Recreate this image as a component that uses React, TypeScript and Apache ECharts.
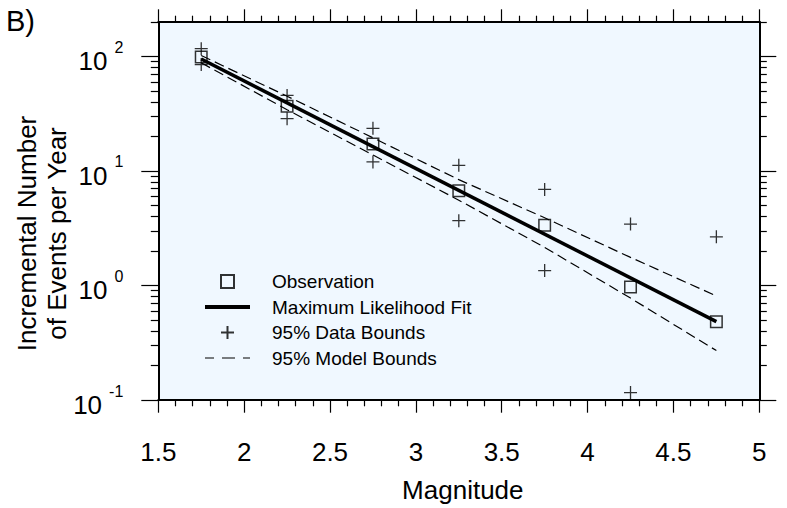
import React, { useEffect, useRef } from "react";
import * as echarts from "echarts";

const magnitudes = [1.75, 2.25, 2.75, 3.25, 3.75, 4.25, 4.75];
const observed = [99, 36.8, 17.2, 6.72, 3.36, 0.97, 0.483];
const dataUpper = [117, 45.7, 23.6, 11.2, 6.9, 3.44, 2.66];
const dataLowerMags = [1.75, 2.25, 2.75, 3.25, 3.75, 4.25];
const dataLower = [85, 28.6, 12.0, 3.68, 1.35, 0.116];
const fitMags = [1.75, 4.75];
const fitValues = [95, 0.483];
const modelUpper = [102, 45, 19.5, 8.4, 3.9, 1.76, 0.81];
const modelLower = [88, 34.3, 13.8, 5.56, 2.15, 0.776, 0.27];

const xTickLabels = ["1.5", "2", "2.5", "3", "3.5", "4", "4.5", "5"];
const yMajorTicks = [0.1, 1, 10, 100];
const yMinorTicks = [
  0.2, 0.3, 0.4, 0.5, 0.6, 0.7, 0.8, 0.9,
  2, 3, 4, 5, 6, 7, 8, 9,
  20, 30, 40, 50, 60, 70, 80, 90,
  200,
];

const FONT = "'Liberation Sans', Arial, Helvetica, sans-serif";
const PLUS = "path://M0,5L10,5M5,0L5,10";
const SQUARE = "path://M0,0L10,0L10,10L0,10Z";

export default function App() {
  const ref = useRef<HTMLDivElement>(null);
  useEffect(() => {
    if (!ref.current) return;
    const chart = echarts.init(ref.current, undefined, { renderer: "svg" });
    const grid = { left: 158.3, top: 22, right: 27.7, bottom: 104 };
    const xBase = (pos: "top" | "bottom", show: boolean) => ({
      type: "value",
      position: pos,
      min: 1.5,
      max: 5,
      interval: 0.5,
      axisLine: { show: true, onZero: false, lineStyle: { color: "#000", width: 2 } },
      axisTick: { show: true, inside: false, length: 12.7, lineStyle: { color: "#000", width: 1.2 } },
      minorTick: { show: true, splitNumber: 5, length: 6.3, lineStyle: { color: "#000", width: 1.2 } },
      splitLine: { show: false },
      minorSplitLine: { show: false },
      axisLabel: {
        show,
        margin: 39,
        color: "#000",
        fontSize: 26,
        fontFamily: FONT,
        formatter: (v: number) => {
          const i = Math.round((v - 1.5) / 0.5);
          return xTickLabels[i] ?? "";
        },
      },
      ...(show
        ? {
            name: "Magnitude",
            nameLocation: "middle",
            nameGap: 77,
            nameTextStyle: { color: "#000", fontSize: 26, fontFamily: FONT, padding: [0, 0, 0, 8] },
          }
        : {}),
    });
    const yBase = (pos: "left" | "right", major: boolean, label: boolean) => ({
      type: "log",
      logBase: 10,
      position: pos,
      min: 0.1,
      max: 200,
      axisLine: { show: major, onZero: false, lineStyle: { color: "#000", width: 2 } },
      axisTick: {
        show: true,
        inside: false,
        length: major ? 17 : 7.5,
        customValues: major ? yMajorTicks : yMinorTicks,
        lineStyle: { color: "#000", width: 1.2 },
      },
      minorTick: { show: false },
      splitLine: { show: false },
      minorSplitLine: { show: false },
      axisLabel: {
        show: label,
        customValues: yMajorTicks,
        margin: 35,
        color: "#000",
        fontFamily: FONT,
        formatter: (v: number) => {
          const e = Math.round(Math.log10(v));
          return `{b|10}{s|${e}}`;
        },
        rich: {
          b: { fontSize: 26, fontFamily: FONT, color: "#000", padding: [10, 0, 0, 0], verticalAlign: "bottom" },
          s: { fontSize: 16, fontFamily: FONT, color: "#000", padding: [1, 0, 0, 7], verticalAlign: "top" },
        },
      },
    });

    chart.setOption({
      animation: false,
      backgroundColor: "#fff",
      grid: { ...grid, show: true, backgroundColor: "#F0F8FF", borderWidth: 0, containLabel: false },
      xAxis: [xBase("bottom", true), xBase("top", false)],
      yAxis: [
        yBase("left", true, true),
        yBase("left", false, false),
        yBase("right", true, false),
        yBase("right", false, false),
      ],
      legend: {
        show: true,
        orient: "vertical",
        left: 203,
        top: 272,
        padding: 0,
        itemWidth: 45,
        itemHeight: 13,
        itemGap: 6.5,
        selectedMode: false,
        textStyle: { color: "#000", fontSize: 19, fontFamily: FONT, padding: [0, 0, 0, 17] },
        data: [
          { name: "Observation", icon: SQUARE },
          {
            name: "Maximum Likelihood Fit",
            itemStyle: { color: "transparent", borderColor: "transparent", borderWidth: 0 },
            lineStyle: { width: 4 },
          },
          { name: "95% Data Bounds" },
          {
            name: "95% Model Bounds",
            itemStyle: { color: "transparent", borderColor: "transparent", borderWidth: 0 },
            lineStyle: { type: [9, 8, 13, 8, 7, 8], width: 1.2 },
          },
        ],
      },
      graphic: [
        { type: "text", left: 6, top: 6, style: { text: "B)", fontSize: 29, fontFamily: FONT, fill: "#000" } },
        {
          type: "text",
          x: 27,
          y: 233.5,
          rotation: Math.PI / 2,
          style: { text: "Incremental Number", fontSize: 26, fontFamily: FONT, fill: "#000", align: "center", verticalAlign: "middle" },
        },
        {
          type: "text",
          x: 57,
          y: 233.5,
          rotation: Math.PI / 2,
          style: { text: "of Events per Year", fontSize: 26, fontFamily: FONT, fill: "#000", align: "center", verticalAlign: "middle" },
        },
      ],
      series: [
        {
          name: "95% Model Bounds",
          type: "line",
          symbol: "none",
          xAxisIndex: 0,
          yAxisIndex: 0,
          data: magnitudes.map((m, i) => [m, modelUpper[i]]),
          lineStyle: { color: "#000", width: 1.2, type: [10, 5] },
          itemStyle: { color: "#000" },
          z: 2,
        },
        {
          name: "95% Model Bounds",
          type: "line",
          symbol: "none",
          xAxisIndex: 0,
          yAxisIndex: 0,
          data: magnitudes.map((m, i) => [m, modelLower[i]]),
          lineStyle: { color: "#000", width: 1.2, type: [10, 5] },
          itemStyle: { color: "#000" },
          z: 2,
        },
        {
          name: "Maximum Likelihood Fit",
          type: "line",
          symbol: "none",
          xAxisIndex: 0,
          yAxisIndex: 0,
          data: fitMags.map((m, i) => [m, fitValues[i]]),
          lineStyle: { color: "#000", width: 3.5 },
          itemStyle: { color: "#000" },
          z: 3,
        },
        {
          name: "95% Data Bounds",
          type: "scatter",
          symbol: PLUS,
          symbolSize: 13,
          xAxisIndex: 0,
          yAxisIndex: 0,
          data: [
            ...magnitudes.map((m, i) => [m, dataUpper[i]]),
            ...dataLowerMags.map((m, i) => [m, dataLower[i]]),
          ],
          itemStyle: { color: "transparent", borderColor: "#000", borderWidth: 1.3 },
          z: 4,
        },
        {
          name: "Observation",
          type: "scatter",
          symbol: "rect",
          symbolSize: 11.5,
          xAxisIndex: 0,
          yAxisIndex: 0,
          data: magnitudes.map((m, i) => [m, observed[i]]),
          itemStyle: { color: "transparent", borderColor: "#000", borderWidth: 1.5 },
          z: 5,
        },
      ],
    });
    return () => chart.dispose();
  }, []);
  return <div ref={ref} style={{ position: "fixed", left: 0, top: 0, width: 787, height: 508 }} />;
}
